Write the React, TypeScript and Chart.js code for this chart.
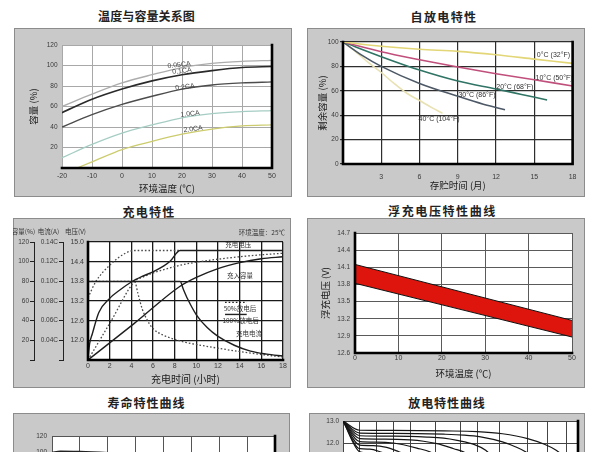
import React, { useEffect, useRef } from "react";
import { Chart, registerables } from "chart.js";

Chart.register(...registerables);

const NUM_FONT = "'Liberation Sans', Arial, sans-serif";
const CJK_FONT = "'Noto Sans CJK SC', 'Noto Sans', sans-serif";
const BOX_FILL = "#c9c9c9";
const BOX_EDGE = "#8c8c8c";
const TICK_COLOR = "#3a3a3a";

// ================= DATA =================
// Panel 1 : 温度与容量关系图
const P1_X_TICKS = [-20, -10, 0, 10, 20, 30, 40, 50];
const P1_Y_TICKS = [0, 20, 40, 60, 80, 100, 120];
const P1_TEMP = [-20, -10, 0, 10, 20, 30, 40, 50];
const P1_TEMP_2CA = [-15, -10, 0, 10, 20, 30, 40, 50];
const P1_CAP_005CA = [60, 72, 83, 91, 98, 102, 104, 105];
const P1_CAP_01CA = [54, 67, 77, 85, 91, 95, 98, 99];
const P1_CAP_02CA = [40, 52, 62, 70, 77, 81, 83, 84];
const P1_CAP_10CA = [10, 23, 34, 42, 49, 53, 55, 56];
const P1_CAP_20CA = [0, 6, 18, 26, 33, 38, 41, 42];
const P1_NAMES = ["0.05CA", "0.1CA", "0.2CA", "1.0CA", "2.0CA"];

// Panel 2 : 自放电特性
const P2_X_TICKS = [0, 3, 6, 9, 12, 15, 18];
const P2_Y_TICKS = [0, 20, 40, 60, 80, 100];
const P2_M_0C = [0, 3, 6, 9, 12, 15, 18];
const P2_R_0C = [100, 96.5, 94, 92.3, 89.5, 86, 82.5];
const P2_M_10C = [0, 3, 6, 9, 12, 15, 18];
const P2_R_10C = [100, 92, 85.5, 79.5, 74, 69, 64];
const P2_M_20C = [0, 3, 6, 9, 12, 14, 16];
const P2_R_20C = [100, 88, 77, 68, 61.5, 57, 52.5];
const P2_M_30C = [0, 1.5, 3, 6, 9, 11, 12.7];
const P2_R_30C = [100, 89, 80, 66, 55.5, 49, 44.5];
const P2_M_40C = [0, 1, 2, 3, 4, 5, 6, 7, 7.8];
const P2_R_40C = [100, 92, 83, 75, 66, 58, 52, 46, 41.5];
const P2_NAMES = ["0°C (32°F)", "10°C (50°F)", "20°C (68°F)", "30°C (86°F)", "40°C (104°F)"];

// Panel 3 : 充电特性
const P3_X_TICKS = [0, 2, 4, 6, 8, 10, 12, 14, 16, 18];
const P3_V_TICKS = [11.4, 12.0, 12.6, 13.2, 13.8, 14.4, 15.0];
const P3_C_TICKS = [0, 20, 40, 60, 80, 100, 120];
const P3_I_TICKS = [0.02, 0.04, 0.06, 0.08, 0.1, 0.12, 0.14];
// after 100% discharge (solid)
const P3_T_VOLT_100 = [0, 0.15, 0.4, 1, 2, 3, 4, 5, 6, 7, 7.6, 8.5, 18];
const P3_VOLT_100 = [11.45, 11.9, 12.2, 12.85, 13.28, 13.55, 13.78, 13.95, 14.09, 14.27, 14.42, 14.74, 14.74];
const P3_T_CAP_100 = [0, 4.25, 8.5, 10, 12, 14, 16, 18];
const P3_CAP_100 = [0, 37, 75, 84, 93, 99, 103, 105];
const P3_T_CUR_100 = [0, 8.5, 8.8, 9.2, 10, 11, 12, 13.5, 15, 16.5, 18];
const P3_CUR_100 = [0.1, 0.1, 0.092, 0.082, 0.066, 0.053, 0.044, 0.035, 0.029, 0.026, 0.024];
// after 50% discharge (dotted)
const P3_T_VOLT_50 = [0, 0.7, 2, 3.4, 4.3, 8.5];
const P3_VOLT_50 = [13.3, 13.78, 14.29, 14.65, 14.74, 14.74];
const P3_T_CAP_50 = [0, 2.15, 4.3, 5, 6, 7, 8, 9, 10, 12, 14, 16, 18];
const P3_CAP_50 = [0, 40, 80, 84, 88.5, 92, 95, 97.5, 99.5, 102.5, 105, 107, 108.5];
const P3_T_CUR_50 = [0, 4.3, 4.6, 5, 5.5, 6, 7, 8, 9, 12, 15, 18];
const P3_CUR_50 = [0.1, 0.1, 0.088, 0.072, 0.06, 0.052, 0.045, 0.041, 0.038, 0.032, 0.027, 0.023];

// Panel 4 : 浮充电压特性曲线
const P4_X_TICKS = [0, 10, 20, 30, 40, 50];
const P4_Y_TICKS = [12.6, 12.9, 13.2, 13.5, 13.8, 14.1, 14.4, 14.7];
const P4_TEMP = [0, 50];
const P4_UPPER = [14.15, 13.17];
const P4_LOWER = [13.82, 12.88];

// Panel 5 : 寿命特性曲线
const P5_X_TICKS = [0, 1, 2, 3, 4, 5, 6, 7, 8];
const P5_Y_TICKS = [0, 20, 40, 60, 80, 100, 120];
const P5_CYCLES = [0, 0.3, 1, 2, 3, 4, 5, 6, 7, 7.8];
const P5_CAP = [99, 101, 100.5, 99, 97, 93, 88, 80, 70, 60];

// Panel 6 : 放电特性曲线
const P6_X_GRID = [0, 1, 2, 3, 4, 5.5, 7, 8, 9.3, 11, 12.2, 13.3, 14];
const P6_Y_TICKS = [9, 10, 11, 12, 13];
const P6_T1 = [0, 1, 3, 6, 8, 9.5, 11, 12, 12.7, 13.3];
const P6_V1 = [13.0, 12.58, 12.57, 12.55, 12.52, 12.42, 12.2, 11.94, 11.67, 11.3];
const P6_T2 = [0, 1, 3, 6, 7.2, 8.2, 9.5, 10.3, 10.9, 11.4];
const P6_V2 = [13.0, 12.45, 12.44, 12.4, 12.36, 12.28, 12.05, 11.82, 11.59, 11.3];
const P6_T3 = [0, 1, 3, 5, 6, 6.8, 7.8, 8.5, 9];
const P6_V3 = [13.0, 12.33, 12.31, 12.27, 12.22, 12.12, 11.94, 11.67, 11.3];
const P6_T4 = [0, 1, 2.5, 4, 4.8, 5.6, 6.6, 7.2, 7.7];
const P6_V4 = [13.0, 12.2, 12.18, 12.14, 12.08, 11.97, 11.74, 11.59, 11.3];
const P6_T5 = [0, 1, 2, 3, 3.6, 4.4, 5.2, 5.8];
const P6_V5 = [13.0, 12.06, 12.04, 12.0, 11.92, 11.77, 11.59, 11.3];
const P6_T6 = [0, 1, 1.8, 2.6, 3.2, 3.8, 4.3];
const P6_V6 = [13.0, 11.9, 11.88, 11.8, 11.64, 11.45, 11.2];
const P6_T7 = [0, 1, 1.6, 2.2, 2.8, 3.2];
const P6_V7 = [13.0, 11.74, 11.72, 11.6, 11.4, 11.1];
const P6_T8 = [0, 1, 1.4, 1.9, 2.3];
const P6_V8 = [13.0, 11.6, 11.55, 11.4, 11.1];

// ================= LAYOUT =================
type Box = { x: number; y: number; w: number; h: number };
type Plot = { l: number; t: number; r: number; b: number };

const P1_BOX: Box = { x: 14, y: 28, w: 278, h: 169 };
const P1_PLOT: Plot = { l: 62, t: 45, r: 272, b: 168 };
const P2_BOX: Box = { x: 307, y: 28, w: 278, h: 169 };
const P2_PLOT: Plot = { l: 343, t: 42, r: 576, b: 164 };
const P3_BOX: Box = { x: 13, y: 218, w: 278, h: 170 };
const P3_PLOT: Plot = { l: 88, t: 242, r: 283, b: 360 };
const P4_BOX: Box = { x: 307, y: 218, w: 278, h: 170 };
const P4_PLOT: Plot = { l: 355, t: 233, r: 572, b: 353 };
const P5_BOX: Box = { x: 13, y: 413, w: 277, h: 150 };
const P5_PLOT: Plot = { l: 52, t: 436, r: 275, b: 532 };
const P6_BOX: Box = { x: 309, y: 413, w: 276, h: 130 };
const P6_PLOT: Plot = { l: 343, t: 421, r: 578, b: 509 };

const TITLES = [
  { text: "温度与容量关系图", cx: 146.5, cy: 16, ls: 0.1 },
  { text: "自放电特性", cx: 444, cy: 16.5, ls: 1.4 },
  { text: "充电特性", cx: 149, cy: 212, ls: 1.3 },
  { text: "浮充电压特性曲线", cx: 442.5, cy: 210.5, ls: 1.6 },
  { text: "寿命特性曲线", cx: 146.5, cy: 403, ls: 1.0 },
  { text: "放电特性曲线", cx: 447, cy: 403, ls: 0.9 },
];

function frame(box: Box, plot: Plot) {
  return {
    padding: { left: 0, top: plot.t - box.y, right: box.x + box.w - plot.r, bottom: 0 },
    yWidth: plot.l - box.x,
    xHeight: box.y + box.h - plot.b,
  };
}

function series(xs: number[], ys: number[], style: any) {
  return {
    data: xs.map((x, i) => ({ x, y: ys[i] })),
    pointRadius: 0,
    fill: false,
    cubicInterpolationMode: "monotone",
    ...style,
  };
}

function axis(o: any) {
  const isLeft = o.pos === "left";
  return {
    type: "linear",
    position: o.pos,
    min: o.min,
    max: o.max,
    weight: o.weight ?? 0,
    afterBuildTicks: (s: any) => {
      s.ticks = o.ticks.map((v: number) => ({ value: v }));
    },
    afterFit: (s: any) => {
      if (isLeft) s.width = o.size;
      else s.height = o.size;
    },
    ticks: {
      callback: (v: any) => o.fmt(Number(v)),
      font: { family: o.tickFamily ?? NUM_FONT, size: o.tickSize ?? 7 },
      color: TICK_COLOR,
      padding: o.pad,
      autoSkip: false,
      maxRotation: 0,
      minRotation: 0,
    },
    grid: {
      color: o.grid,
      lineWidth: o.gridWidth,
      drawTicks: !!o.tickLen,
      tickLength: o.tickLen ?? 0,
      drawOnChartArea: o.onArea ?? true,
    },
    border: { display: !!o.border, color: "#222", width: 1 },
    title: o.title
      ? {
          display: true,
          text: o.title,
          font: { family: CJK_FONT, size: o.titleSize ?? 9.5 },
          color: "#1a1a1a",
          padding: { top: o.titleOffset, bottom: o.titleOffset },
        }
      : { display: false },
  };
}

type Note = {
  text: string;
  x: number;
  y: number;
  yAxis?: string;
  size?: number;
  cjk?: boolean;
  rot?: number;
  color?: string;
};
type Seg = { x1: number; x2: number; y: number; yAxis?: string; dash?: number[] };

function deco(cfg: { thick: string[]; notes?: Note[]; segs?: Seg[]; extra?: (c: any) => void }) {
  return {
    id: "deco",
    beforeDraw(chart: any) {
      const { ctx, width, height, chartArea: a } = chart;
      ctx.save();
      ctx.fillStyle = BOX_FILL;
      ctx.fillRect(0, 0, width, height);
      ctx.strokeStyle = BOX_EDGE;
      ctx.lineWidth = 1;
      ctx.strokeRect(0.5, 0.5, width - 1, height - 1);
      ctx.fillStyle = "#ffffff";
      ctx.fillRect(a.left, a.top, a.right - a.left, a.bottom - a.top);
      ctx.restore();
    },
    afterDraw(chart: any) {
      const { ctx, chartArea: a } = chart;
      ctx.save();
      ctx.strokeStyle = "#000";
      ctx.lineWidth = 2.6;
      ctx.lineCap = "square";
      ctx.beginPath();
      if (cfg.thick.includes("bottom")) {
        ctx.moveTo(a.left, a.bottom);
        ctx.lineTo(a.right, a.bottom);
      }
      if (cfg.thick.includes("right")) {
        ctx.moveTo(a.right, a.top);
        ctx.lineTo(a.right, a.bottom);
      }
      if (cfg.thick.includes("left")) {
        ctx.moveTo(a.left, a.top);
        ctx.lineTo(a.left, a.bottom);
      }
      ctx.stroke();
      ctx.restore();

      for (const s of cfg.segs ?? []) {
        const xs = chart.scales.x;
        const ys = chart.scales[s.yAxis ?? "y"];
        const py = ys.getPixelForValue(s.y);
        ctx.save();
        ctx.strokeStyle = "#222";
        ctx.lineWidth = s.dash ? 1.3 : 1.4;
        ctx.setLineDash(s.dash ?? []);
        ctx.beginPath();
        ctx.moveTo(xs.getPixelForValue(s.x1), py);
        ctx.lineTo(xs.getPixelForValue(s.x2), py);
        ctx.stroke();
        ctx.restore();
      }

      for (const n of cfg.notes ?? []) {
        const xs = chart.scales.x;
        const ys = chart.scales[n.yAxis ?? "y"];
        ctx.save();
        ctx.translate(xs.getPixelForValue(n.x), ys.getPixelForValue(n.y));
        if (n.rot) ctx.rotate(n.rot);
        ctx.font = `${n.size ?? 7}px ${n.cjk ? CJK_FONT : NUM_FONT}`;
        ctx.fillStyle = n.color ?? "#333";
        ctx.textAlign = "center";
        ctx.textBaseline = "middle";
        ctx.fillText(n.text, 0, 0);
        ctx.restore();
      }
      if (cfg.extra) cfg.extra(chart);
    },
  };
}

function baseOptions(f: any, scales: any) {
  return {
    animation: false,
    responsive: false,
    events: [],
    layout: { padding: f.padding },
    plugins: { legend: { display: false }, tooltip: { enabled: false } },
    scales,
  };
}

// ================= PANELS =================
function buildP1() {
  const f = frame(P1_BOX, P1_PLOT);
  const at = [
    [19, 100.5],
    [20, 94.6],
    [21, 79],
    [22.7, 52.7],
    [23.7, 38],
  ];
  return {
    type: "line",
    data: {
      datasets: [
        series(P1_TEMP, P1_CAP_005CA, { borderColor: "#acacac", borderWidth: 1.3 }),
        series(P1_TEMP, P1_CAP_01CA, { borderColor: "#2a2a2a", borderWidth: 1.6 }),
        series(P1_TEMP, P1_CAP_02CA, { borderColor: "#4c4c4c", borderWidth: 1.4 }),
        series(P1_TEMP, P1_CAP_10CA, { borderColor: "#a6cdc4", borderWidth: 1.3 }),
        series(P1_TEMP_2CA, P1_CAP_20CA, { borderColor: "#cccc6e", borderWidth: 1.3 }),
      ],
    },
    options: baseOptions(f, {
      x: axis({ pos: "bottom", size: f.xHeight, min: -20, max: 50, ticks: P1_X_TICKS, fmt: (v: number) => String(v), grid: "#a8a8a8", gridWidth: 1, pad: 3.5, title: "环境温度 (℃)", titleOffset: 3.3 }),
      y: axis({ pos: "left", size: f.yWidth, min: 0, max: 120, ticks: P1_Y_TICKS, fmt: (v: number) => (v === 0 ? "" : String(v)), grid: "#a8a8a8", gridWidth: 1, pad: 4.5, tickSize: 6.5, title: "容量 (%)", titleOffset: 13.3 }),
    }),
    plugins: [
      deco({
        thick: ["right", "bottom"],
        notes: P1_NAMES.map((text, i) => ({ text, x: at[i][0], y: at[i][1], rot: -0.12, size: 7, color: "#444" })),
      }),
    ],
  };
}

function buildP2() {
  const f = frame(P2_BOX, P2_PLOT);
  const at = [
    [16.5, 89.3],
    [16.55, 70.2],
    [13.47, 62.8],
    [10.5, 56.6],
    [7.53, 36.6],
  ];
  return {
    type: "line",
    data: {
      datasets: [
        series(P2_M_0C, P2_R_0C, { borderColor: "#e2d677", borderWidth: 1.6 }),
        series(P2_M_10C, P2_R_10C, { borderColor: "#c14f7b", borderWidth: 1.6 }),
        series(P2_M_20C, P2_R_20C, { borderColor: "#2f7464", borderWidth: 1.6 }),
        series(P2_M_30C, P2_R_30C, { borderColor: "#4d5966", borderWidth: 1.6 }),
        series(P2_M_40C, P2_R_40C, { borderColor: "#e8e1b2", borderWidth: 1.6 }),
      ],
    },
    options: baseOptions(f, {
      x: axis({ pos: "bottom", size: f.xHeight, min: 0, max: 18, ticks: P2_X_TICKS, fmt: (v: number) => (v === 0 ? "" : String(v)), grid: "#2e2e2e", gridWidth: 1.2, pad: 8.5, title: "存贮时间 (月)", titleOffset: 6.3 }),
      y: axis({ pos: "left", size: f.yWidth, min: 0, max: 100, ticks: P2_Y_TICKS, fmt: (v: number) => String(v), grid: "#2e2e2e", gridWidth: 1.2, pad: 1.5, tickLen: 3, tickSize: 6.5, title: "剩余容量 (%)", titleOffset: 9.3 }),
    }),
    plugins: [
      deco({
        thick: ["right", "bottom", "left"],
        notes: P2_NAMES.map((text, i) => ({ text, x: at[i][0], y: at[i][1], size: 7, color: "#333" })),
      }),
    ],
  };
}

function buildP3() {
  const f = frame(P3_BOX, P3_PLOT);
  const solid = { borderColor: "#1e1e1e", borderWidth: 1.4 };
  const dotted = { borderColor: "#4a4a4a", borderWidth: 1.3, borderDash: [1.6, 2] };
  const heads: [string, string][] = [
    ["yC", "容量(%)"],
    ["yI", "电流(A)"],
    ["yV", "电压(V)"],
  ];
  return {
    type: "line",
    data: {
      datasets: [
        series(P3_T_VOLT_100, P3_VOLT_100, { ...solid, yAxisID: "yV" }),
        series(P3_T_CAP_100, P3_CAP_100, { ...solid, yAxisID: "yC" }),
        series(P3_T_CUR_100, P3_CUR_100, { ...solid, yAxisID: "yI" }),
        series(P3_T_VOLT_50, P3_VOLT_50, { ...dotted, yAxisID: "yV" }),
        series(P3_T_CAP_50, P3_CAP_50, { ...dotted, yAxisID: "yC" }),
        series(P3_T_CUR_50, P3_CUR_50, { ...dotted, yAxisID: "yI" }),
      ],
    },
    options: baseOptions(f, {
      x: axis({ pos: "bottom", size: f.xHeight, min: 0, max: 18, ticks: P3_X_TICKS, fmt: (v: number) => String(v), grid: "#1a1a1a", gridWidth: 1.3, pad: 2.2, title: "充电时间 (小时)", titleSize: 10, titleOffset: 3 }),
      yC: axis({ pos: "left", weight: 2, size: 21, min: 0, max: 120, ticks: P3_C_TICKS, fmt: (v: number) => (v === 0 ? "" : String(v)), grid: "#222", gridWidth: 1, tickLen: 4, pad: 1, onArea: false, border: true, tickSize: 6.5 }),
      yI: axis({ pos: "left", weight: 1, size: 29, min: 0.02, max: 0.14, ticks: P3_I_TICKS, fmt: (v: number) => (v < 0.03 ? "" : v.toFixed(2) + "C"), grid: "#222", gridWidth: 1, tickLen: 4, pad: 1, onArea: false, border: true, tickSize: 6.5 }),
      yV: axis({ pos: "left", weight: 0, size: f.yWidth - 50, min: 11.4, max: 15.0, ticks: P3_V_TICKS, fmt: (v: number) => (v < 11.5 ? "" : v.toFixed(1)), grid: "#1a1a1a", gridWidth: 1.3, pad: 4, tickSize: 7 }),
    }),
    plugins: [
      deco({
        thick: ["left", "bottom"],
        notes: [
          { text: "充电电压", x: 13.88, y: 14.91, yAxis: "yV", cjk: true, size: 6.5, color: "#333" },
          { text: "充入容量", x: 14.03, y: 13.97, yAxis: "yV", cjk: true, size: 6.5, color: "#333" },
          { text: "50%放电后", x: 14.03, y: 12.98, yAxis: "yV", cjk: true, size: 6.5, color: "#333" },
          { text: "100%放电后", x: 14.08, y: 12.59, yAxis: "yV", cjk: true, size: 6.5, color: "#333" },
          { text: "充电电流", x: 14.87, y: 12.21, yAxis: "yV", cjk: true, size: 6.5, color: "#333" },
        ],
        segs: [
          { x1: 12.65, x2: 14.65, y: 13.16, yAxis: "yV", dash: [1.6, 2] },
          { x1: 12.65, x2: 14.65, y: 12.79, yAxis: "yV" },
        ],
        extra: (chart: any) => {
          const { ctx, chartArea: a } = chart;
          ctx.save();
          ctx.font = `6.5px ${CJK_FONT}`;
          ctx.fillStyle = "#333";
          ctx.textBaseline = "middle";
          ctx.textAlign = "center";
          for (const [id, text] of heads) {
            const s = chart.scales[id];
            ctx.fillText(text, (s.left + s.right) / 2, a.top - 10);
          }
          ctx.textAlign = "right";
          ctx.fillText("环境温度：25℃", a.right + 2, a.top - 9);
          ctx.restore();
        },
      }),
    ],
  };
}

function buildP4() {
  const f = frame(P4_BOX, P4_PLOT);
  return {
    type: "line",
    data: {
      datasets: [
        series(P4_TEMP, P4_UPPER, { borderColor: "#111", borderWidth: 1 }),
        series(P4_TEMP, P4_LOWER, { borderColor: "#111", borderWidth: 1, fill: "-1", backgroundColor: "#de150d" }),
      ],
    },
    options: baseOptions(f, {
      x: axis({ pos: "bottom", size: f.xHeight, min: 0, max: 50, ticks: P4_X_TICKS, fmt: (v: number) => String(v), grid: "#5a5a5a", gridWidth: 1, pad: 0.5, title: "环境温度 (℃)", titleOffset: 9.3 }),
      y: axis({ pos: "left", size: f.yWidth, min: 12.6, max: 14.7, ticks: P4_Y_TICKS, fmt: (v: number) => v.toFixed(1), grid: "#5a5a5a", gridWidth: 1, pad: 5, tickSize: 6.5, title: "浮充电压 (V)", titleOffset: 13 }),
    }),
    plugins: [deco({ thick: ["left", "bottom"] })],
  };
}

function buildP5() {
  const f = frame(P5_BOX, P5_PLOT);
  return {
    type: "line",
    data: {
      datasets: [series(P5_CYCLES, P5_CAP, { borderColor: "#222", borderWidth: 1.6 })],
    },
    options: baseOptions(f, {
      x: axis({ pos: "bottom", size: f.xHeight, min: 0, max: 8, ticks: P5_X_TICKS, fmt: () => "", grid: "#555", gridWidth: 1, pad: 3 }),
      y: axis({ pos: "left", size: f.yWidth, min: 0, max: 120, ticks: P5_Y_TICKS, fmt: (v: number) => String(v), grid: "#555", gridWidth: 1, pad: 5, tickSize: 6.5 }),
    }),
    plugins: [deco({ thick: ["right", "bottom"] })],
  };
}

function buildP6() {
  const f = frame(P6_BOX, P6_PLOT);
  const st = { borderColor: "#151515", borderWidth: 1.2 };
  return {
    type: "line",
    data: {
      datasets: [
        series(P6_T1, P6_V1, st),
        series(P6_T2, P6_V2, st),
        series(P6_T3, P6_V3, st),
        series(P6_T4, P6_V4, st),
        series(P6_T5, P6_V5, st),
        series(P6_T6, P6_V6, st),
        series(P6_T7, P6_V7, st),
        series(P6_T8, P6_V8, st),
      ],
    },
    options: baseOptions(f, {
      x: axis({ pos: "bottom", size: f.xHeight, min: 0, max: 14, ticks: P6_X_GRID, fmt: () => "", grid: "#444", gridWidth: 1, pad: 3 }),
      y: axis({ pos: "left", size: f.yWidth, min: 9, max: 13, ticks: P6_Y_TICKS, fmt: (v: number) => v.toFixed(1), grid: "#444", gridWidth: 1, pad: 4, tickSize: 6.5 }),
    }),
    plugins: [deco({ thick: ["right", "bottom"] })],
  };
}

function ChartCanvas({ box, build }: { box: Box; build: () => any }) {
  const ref = useRef<HTMLCanvasElement | null>(null);
  useEffect(() => {
    if (!ref.current) return;
    const chart = new Chart(ref.current, build() as any);
    return () => chart.destroy();
  }, [build]);
  return (
    <canvas
      ref={ref}
      width={box.w}
      height={box.h}
      style={{ position: "absolute", left: box.x, top: box.y, width: box.w, height: box.h, display: "block" }}
    />
  );
}

export default function App() {
  return (
    <div
      style={{
        position: "fixed",
        left: 0,
        top: 0,
        width: 600,
        height: 452,
        overflow: "hidden",
        background: "#ffffff",
      }}
    >
      {TITLES.map((t) => (
        <div
          key={t.text}
          style={{
            position: "absolute",
            left: t.cx - 100,
            top: t.cy - 8,
            width: 200,
            height: 16,
            lineHeight: "16px",
            textAlign: "center",
            fontFamily: CJK_FONT,
            fontSize: 12,
            fontWeight: 700,
            letterSpacing: t.ls,
            color: "#222",
            whiteSpace: "nowrap",
          }}
        >
          {t.text}
        </div>
      ))}
      <ChartCanvas box={P1_BOX} build={buildP1} />
      <ChartCanvas box={P2_BOX} build={buildP2} />
      <ChartCanvas box={P3_BOX} build={buildP3} />
      <ChartCanvas box={P4_BOX} build={buildP4} />
      <ChartCanvas box={P5_BOX} build={buildP5} />
      <ChartCanvas box={P6_BOX} build={buildP6} />
    </div>
  );
}
